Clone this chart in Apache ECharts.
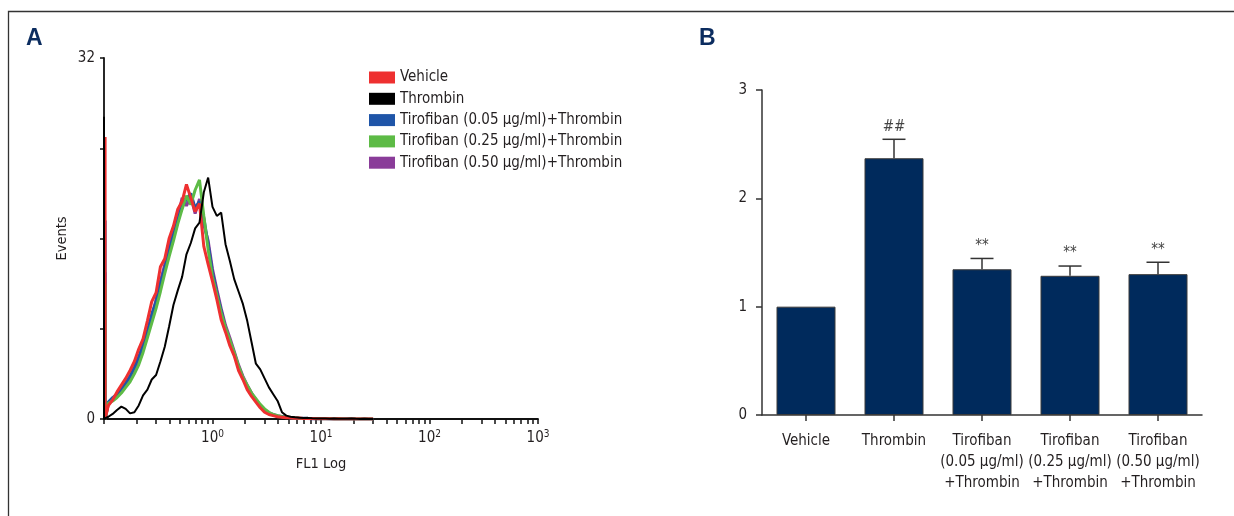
<!DOCTYPE html>
<html><head><meta charset="utf-8">
<script src="https://cdn.jsdelivr.net/npm/echarts@6/dist/echarts.min.js"></script>
<style>html,body{margin:0;padding:0;background:#fff}#c{width:1234px;height:516px}</style>
</head><body><div id="c"></div>
<script>
// ---------- Panel A data (flow cytometry histograms) ----------
const histNames = ['Vehicle', 'Thrombin', 'Tirofiban (0.05 μg/ml)+Thrombin', 'Tirofiban (0.25 μg/ml)+Thrombin', 'Tirofiban (0.50 μg/ml)+Thrombin'];
// FL1 channel position, log10 units
const firstBinLog = [-0.99, -1.0, -0.99, -0.99, -0.99];
const firstBinCounts = [25.0, 26.8, 17.6, 12.0, 13.0];
const baselineCount = 0;
const fl1Log = [-0.96,-0.92,-0.88,-0.84,-0.80,-0.76,-0.72,-0.68,-0.64,-0.60,-0.56,-0.52,-0.48,-0.44,-0.40,-0.36,-0.32,-0.28,-0.24,-0.20,-0.16,-0.12,-0.08,-0.04,0.00,0.04,0.08,0.12,0.16,0.20,0.24,0.28,0.32,0.36,0.40,0.44,0.48,0.52,0.56,0.60,0.64,0.68,0.72,0.76,0.80,0.84,0.88,0.92,0.96,1.00,1.04,1.08,1.12,1.16,1.20,1.24,1.28,1.32,1.36,1.40,1.44,1.48];
const vehicleCounts = [1.2,1.7,2.4,3.0,3.6,4.3,5.1,6.2,7.1,8.7,10.4,11.2,13.5,14.2,16.0,17.1,18.6,19.3,20.8,19.6,18.4,19.1,15.3,13.7,12.2,10.6,8.8,7.7,6.5,5.6,4.3,3.5,2.6,2.0,1.5,1.0,0.6,0.4,0.3,0.2,0.15,0.12,0.1,0.06,0.08,0.05,0.04,0.05,0.03,0.02,0.03,0.02,0,0.02,0,0,0.01,0,0,0,0,0];
const thrombinCounts = [0.2,0.45,0.8,1.1,0.9,0.5,0.6,1.2,2.1,2.6,3.5,3.9,5.1,6.4,8.2,10.1,11.4,12.6,14.6,15.6,16.9,17.4,20.1,21.4,18.8,18.0,18.3,15.5,14.0,12.4,11.3,10.2,8.7,6.8,4.9,4.4,3.6,2.8,2.2,1.6,0.6,0.3,0.2,0.15,0.12,0.08,0.1,0.06,0.05,0.04,0.05,0.03,0.04,0.02,0.03,0.02,0.05,0.02,0.01,0.02,0,0];
const tiro005Counts = [1.5,1.9,2.2,2.7,3.2,3.8,4.6,5.5,6.6,7.8,9.3,10.4,12.0,13.4,14.8,16.3,17.6,18.8,19.5,20.0,18.7,19.3,17.8,15.5,13.0,11.2,9.6,8.0,6.9,5.8,4.6,3.6,2.9,2.2,1.7,1.2,0.8,0.5,0.35,0.25,0.2,0.15,0.1,0.08,0.05,0.06,0.04,0.03,0.04,0.02,0.02,0.01,0.02,0,0.01,0,0,0,0,0,0,0];
const tiro025Counts = [1.4,1.6,1.9,2.3,2.8,3.3,4.0,4.8,5.9,7.2,8.5,9.8,11.3,12.9,14.4,15.8,17.3,18.6,19.8,19.0,20.3,21.2,18.0,15.0,12.6,11.0,9.4,8.1,7.0,5.9,4.7,3.7,3.0,2.3,1.8,1.3,0.9,0.6,0.4,0.3,0.2,0.15,0.12,0.1,0.06,0.05,0.04,0.05,0.03,0.02,0.03,0.02,0.01,0.02,0,0.01,0,0,0,0,0,0];
const tiro050Counts = [1.3,1.7,2.0,2.5,3.0,3.6,4.4,5.3,6.4,7.6,9.0,10.6,12.2,13.7,15.2,16.7,17.9,19.6,18.9,19.7,18.2,19.5,17.2,15.8,13.3,11.5,9.8,8.3,7.2,6.0,4.8,3.8,3.0,2.3,1.7,1.2,0.8,0.55,0.4,0.3,0.22,0.16,0.12,0.08,0.06,0.05,0.04,0.03,0.03,0.02,0.02,0.03,0.01,0,0.01,0.02,0,0,0,0,0,0];
const xDecadeLabels = [0, 1, 2, 3];
const yTickLabelsA = [0, 32];

// ---------- Panel B data ----------
const groups = ['Vehicle', 'Thrombin', 'Tirofiban\n(0.05 μg/ml)\n+Thrombin', 'Tirofiban\n(0.25 μg/ml)\n+Thrombin', 'Tirofiban\n(0.50 μg/ml)\n+Thrombin'];
const meanValues = [1.00, 2.37, 1.345, 1.285, 1.30];
const sdValues = [0, 0.175, 0.10, 0.09, 0.11];
const sigMarks = ['', '##', '**', '**', '**'];

// ---------- build ----------
const FONT = "'DejaVu Sans Condensed','Liberation Sans Narrow',sans-serif";
const TXT = '#231f20';
const colors = ['#ee3030', '#000000', '#1f55a8', '#5dbb46', '#8a3c99'];
const countsBySeries = [vehicleCounts, thrombinCounts, tiro005Counts, tiro025Counts, tiro050Counts];
const drawOrder = [4, 2, 3, 0, 1];

const minorTicks = [];
for (let n = -1; n < 3; n++) for (let k = 1; k < 10; k++) minorTicks.push(n + Math.log10(k));
minorTicks.push(3);

const histSeries = drawOrder.map(i => ({
  name: histNames[i], type: 'line', xAxisIndex: 0, yAxisIndex: 0,
  symbol: 'none', smooth: false, z: 3,
  color: colors[i], itemStyle: { color: colors[i] },
  lineStyle: { color: colors[i], width: i === 1 ? 2 : 3 },
  data: [[firstBinLog[i], firstBinCounts[i]], [firstBinLog[i], baselineCount]]
    .concat(fl1Log.map((x, j) => [x, countsBySeries[i][j]]))
}));

const chart = echarts.init(document.getElementById('c'), null, { renderer: 'canvas' });
chart.setOption({
  animation: false,
  textStyle: { fontFamily: FONT },
  grid: [
    { left: 104, top: 58, width: 434, height: 361 },
    { left: 762, top: 90, width: 440, height: 325 }
  ],
  legend: {
    data: histNames, orient: 'vertical', left: 369, top: 69, padding: 0,
    icon: 'rect', itemWidth: 26, itemHeight: 12, itemGap: 4.3, selectedMode: false,
    textStyle: { fontFamily: FONT, fontSize: 15, color: TXT, lineHeight: 17 }
  },
  xAxis: [
    {
      type: 'value', gridIndex: 0, min: -1, max: 3,
      name: 'FL1 Log', nameLocation: 'middle', nameGap: 38,
      nameTextStyle: { fontFamily: FONT, fontSize: 14.5, color: TXT },
      axisLine: { onZero: false, lineStyle: { color: '#111', width: 1.8 } },
      axisTick: { show: true, customValues: minorTicks, length: 5, lineStyle: { color: '#111', width: 1.5 } },
      axisLabel: {
        customValues: xDecadeLabels, margin: 10, color: TXT,
        formatter: v => '{b|10}{s|' + Math.round(v) + '}',
        rich: { b: { fontFamily: FONT, fontSize: 15, color: TXT }, s: { fontFamily: FONT, fontSize: 10, color: TXT, padding: [0, 0, 8, 0] } }
      },
      splitLine: { show: false }
    },
    {
      type: 'category', gridIndex: 1, data: groups,
      axisLine: { lineStyle: { color: '#333', width: 1.5 } },
      axisTick: { show: true, alignWithLabel: true, length: 6, lineStyle: { color: '#333', width: 1.5 } },
      axisLabel: { fontFamily: FONT, fontSize: 15, color: TXT, margin: 16, lineHeight: 21, interval: 0 },
      splitLine: { show: false }
    }
  ],
  yAxis: [
    {
      type: 'value', gridIndex: 0, min: 0, max: 32, interval: 8,
      name: 'Events', nameLocation: 'middle', nameGap: 34, nameRotate: 90,
      nameTextStyle: { fontFamily: FONT, fontSize: 14.5, color: TXT },
      axisLine: { show: true, onZero: false, lineStyle: { color: '#111', width: 1.8 } },
      axisTick: { show: true, length: 4, lineStyle: { color: '#111', width: 1.5 } },
      axisLabel: { margin: 9, fontFamily: FONT, fontSize: 15, color: TXT, formatter: v => yTickLabelsA.indexOf(v) >= 0 ? String(v) : '' },
      splitLine: { show: false }
    },
    {
      type: 'value', gridIndex: 1, min: 0, max: 3, interval: 1,
      axisLine: { show: true, onZero: false, lineStyle: { color: '#333', width: 1.5 } },
      axisTick: { show: true, length: 6, lineStyle: { color: '#333', width: 1.5 } },
      axisLabel: { margin: 15, fontFamily: FONT, fontSize: 15, color: TXT },
      splitLine: { show: false }
    }
  ],
  series: histSeries.concat([
    {
      type: 'bar', xAxisIndex: 1, yAxisIndex: 1, barWidth: 59,
      itemStyle: { color: '#002a5c', borderColor: '#3a3a3a', borderWidth: 1 },
      data: meanValues
    },
    {
      type: 'custom', xAxisIndex: 1, yAxisIndex: 1, z: 5,
      data: meanValues.map((m, i) => [i, m, sdValues[i]]),
      renderItem: (params, api) => {
        const i = api.value(0), m = api.value(1), sd = api.value(2);
        const base = api.coord([i, m]);
        const top = api.coord([i, m + sd]);
        const children = [];
        if (sd > 0) {
          children.push({ type: 'line', shape: { x1: base[0], y1: base[1], x2: top[0], y2: top[1] }, style: { stroke: '#333', lineWidth: 1.5 } });
          children.push({ type: 'line', shape: { x1: top[0] - 11.5, y1: top[1], x2: top[0] + 11.5, y2: top[1] }, style: { stroke: '#333', lineWidth: 1.5 } });
        }
        if (sigMarks[i]) {
          children.push({ type: 'text', style: { text: sigMarks[i], x: top[0], y: top[1] - 5, align: 'center', verticalAlign: 'bottom', font: '15px ' + FONT, fill: '#444' } });
        }
        return { type: 'group', children };
      }
    }
  ]),
  graphic: [
    { type: 'polyline', silent: true, shape: { points: [[8.5, 516], [8.5, 11.5], [1234, 11.5]] }, style: { stroke: '#333', lineWidth: 1.3, fill: null } },
    { type: 'text', left: 26, top: 27, style: { text: 'A', font: 'bold 23px "Liberation Sans","DejaVu Sans",sans-serif', fill: '#0b2c5f' } },
    { type: 'text', left: 699, top: 27, style: { text: 'B', font: 'bold 23px "Liberation Sans","DejaVu Sans",sans-serif', fill: '#0b2c5f' } }
  ]
});
</script></body></html>
